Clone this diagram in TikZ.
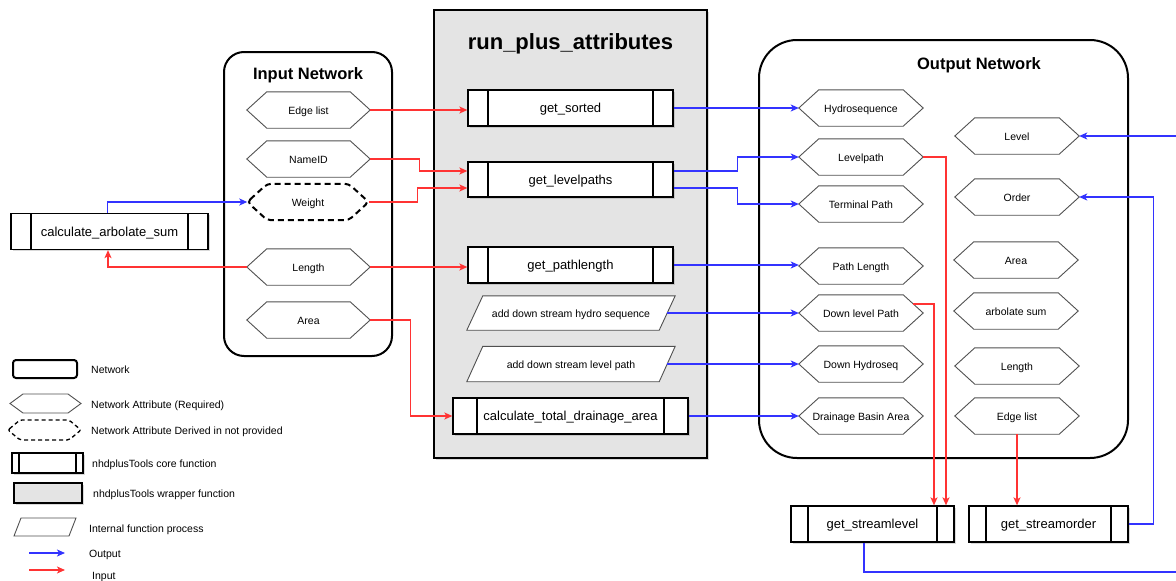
\documentclass[tikz,border=0pt]{standalone}
\usepackage{fontspec}
\setmainfont{Liberation Sans}
\usetikzlibrary{arrows.meta,shadows,calc}
\definecolor{lred}{HTML}{FF3333}
\definecolor{lblue}{HTML}{3333FF}
\definecolor{wgray}{HTML}{E4E4E4}
\definecolor{hexgray}{HTML}{505050}
\tikzset{
  tip/.style={-{Stealth[length=8pt,width=7pt,inset=2pt]}},
  inarr/.style={draw=lred, line width=1.3pt, tip},
  outarr/.style={draw=lblue, line width=1.3pt, tip},
  dio/.style={text height=1.05em, text depth=0.21em},
  diob/.style={text height=1.2em, text depth=0.21em},
  hexbox/.style={minimum height=36pt, inner sep=0pt},
  hexline/.style={draw=hexgray, line width=0.9pt},
  hextext/.style={inner sep=0pt, dio, font=\fontsize{10.5}{12}\selectfont},
  wdash/.style={draw=black, line width=2pt, dash pattern=on 6pt off 4pt, rounded corners=4pt},
  paraline/.style={draw=hexgray, line width=0.9pt, fill=white},
  corebox/.style={draw=black, line width=1.3pt, fill=white, minimum height=36pt, inner sep=0pt, diob,
    font=\fontsize{13}{15}\selectfont,
    drop shadow={shadow xshift=1.5pt, shadow yshift=-1.5pt, opacity=0.3},
    path picture={\draw[line width=1.3pt]
      ([xshift=#1]path picture bounding box.north west) -- ([xshift=#1]path picture bounding box.south west)
      ([xshift=-#1]path picture bounding box.north east) -- ([xshift=-#1]path picture bounding box.south east);}},
  corebox/.default=20pt,
  ttl/.style={font=\bfseries\fontsize{16.5}{19}\selectfont, inner sep=0pt, dio},
  lgd/.style={anchor=west, inner sep=0pt, dio, font=\fontsize{10.5}{12}\selectfont},
}
% hexagon: [extra] name, position, width, text
\newcommand\hexat[5][]{%
  \node[hexbox, minimum width=#4] (#2) at (#3) {};
  \draw[hexline,#1] (#2.west) -- ([xshift=20pt]#2.north west) -- ([xshift=-20pt]#2.north east)
     -- (#2.east) -- ([xshift=-20pt]#2.south east) -- ([xshift=20pt]#2.south west) -- cycle;
  \node[hextext] (#2t) at (#2) {#5};
}
% parallelogram: name, position, height, text
\newcommand\myslant[4]{%
  \node[minimum width=208pt, minimum height=#3, inner sep=0pt] (#1) at (#2) {};
  \draw[paraline] (#1.south west) -- ([xshift=16pt]#1.north west) -- (#1.north east)
     -- ([xshift=-16pt]#1.south east) -- cycle;
  \node[hextext] (#1t) at (#1) {#4};
}
\begin{document}
\begin{tikzpicture}[x=1pt,y=-1pt]
\useasboundingbox (0,0) rectangle (1176,581);
\clip (0,0) rectangle (1176,581);

% containers
\node[draw=black, line width=2pt, fill=wgray, minimum width=273pt, minimum height=448pt,
  drop shadow={shadow xshift=1.5pt, shadow yshift=-1.5pt, opacity=0.3}] (rpa) at (570.5,234) {};
\node[font=\bfseries\fontsize{22}{26}\selectfont, inner sep=0pt, dio] (rpat) at (570.5,45) {run\_plus\_attributes};
\node[draw=black, line width=2pt, rounded corners=20pt, minimum width=168pt, minimum height=304pt] (inb) at (308,204) {};
\node[ttl] (inbt) at (308,75.5) {Input Network};
\node[draw=black, line width=2pt, rounded corners=38pt, minimum width=369pt, minimum height=418pt] (outb) at (943.5,249) {};
\node[ttl] (outbt) at (979,65.5) {Output Network};

% input attributes
\hexat{in1}{308.5,110}{123pt}{Edge list}
\hexat{in2}{308.5,159}{123pt}{NameID}
\hexat[wdash]{wt}{308,202}{121pt}{Weight}
\hexat{in4}{308.5,267}{123pt}{Length}
\hexat{in5}{308.5,320}{123pt}{Area}

% functions
\node[corebox, minimum width=197pt] (cas) at (109.5,231.5) {calculate\_arbolate\_sum};
\node[corebox, minimum width=205pt] (gs) at (570.5,108) {get\_sorted};
\node[corebox, minimum width=205pt, minimum height=35pt] (glp) at (570.5,179.5) {get\_levelpaths};
\node[corebox, minimum width=205pt] (gpl) at (570.5,265) {get\_pathlength};
\myslant{p1}{571,313}{34pt}{add down stream hydro sequence}
\myslant{p2}{571,364}{35pt}{add down stream level path}
\node[corebox=24pt, minimum width=235pt] (ctda) at (570.5,416) {calculate\_total\_drainage\_area};
\node[corebox=17pt, minimum width=163pt] (gsl) at (872.5,524) {get\_streamlevel};
\node[corebox=17pt, minimum width=159pt] (gso) at (1048.5,524) {get\_streamorder};

% output attributes
\hexat{o1}{861,108}{124pt}{Hydrosequence}
\hexat{o2}{861,157}{124pt}{Levelpath}
\hexat{o3}{861,204}{124pt}{Terminal Path}
\hexat{o4}{861,266}{124pt}{Path Length}
\hexat{o5}{861,313}{124pt}{Down level Path}
\hexat{o6}{861,364}{124pt}{Down Hydroseq}
\hexat{o7}{861,416}{124pt}{Drainage Basin Area}
\hexat{o8}{1017,136}{124pt}{Level}
\hexat{o9}{1017,197}{124pt}{Order}
\hexat{o10}{1016,260}{124pt}{Area}
\hexat{o11}{1016,311}{124pt}{arbolate sum}
\hexat{o12}{1017,366}{124pt}{Length}
\hexat{o13}{1017,416}{124pt}{Edge list}

% input connectors
\draw[inarr] (in1.east) -- (in1.east -| gs.west);
\draw[inarr] (in2.east) -- ++(49,0) |- ([yshift=8.5pt]glp.west);
\draw[inarr] (wt.east) -- ++(49,0) |- ([yshift=-8.5pt]glp.west);
\draw[inarr] (in4.east) -- (in4.east -| gpl.west);
\draw[inarr] (in5.east) -- ++(40,0) |- (ctda.west);
\draw[inarr] (in4.west) -| ([xshift=-1.5pt]cas.south);
\draw[outarr] ([xshift=-2pt]cas.north) |- (wt.west);

% output connectors
\draw[outarr] (gs.east) -- (gs.east -| o1.west);
\draw[outarr] ([yshift=8.5pt]glp.east) -- ++(64,0) |- (o2.west);
\draw[outarr] ([yshift=-8.5pt]glp.east) -- ++(64,0) |- (o3.west);
\draw[outarr] (gpl.east) -- (gpl.east -| o4.west);
\draw[outarr] ([xshift=-8pt]p1.east) -- (p1.east -| o5.west);
\draw[outarr] ([xshift=-8pt]p2.east) -- (p2.east -| o6.west);
\draw[outarr] (ctda.east) -- (ctda.east -| o7.west);

% stream level / order
\draw[inarr] (o2.east) -| ([xshift=73.5pt]gsl.north);
\draw[inarr] ([xshift=-10pt,yshift=9pt]o5.east) -| ([xshift=61.5pt]gsl.north);
\draw[inarr] (o13.south) -- (o13.south |- gso.north);
\draw[outarr] (gso.east) -- ++(25,0) |- (o9.east);
\coordinate (farR) at (1190,572);
\draw[outarr] ([xshift=-8.5pt]gsl.south) |- (farR) |- (o8.east);

% legend
\draw[line width=2pt, rounded corners=3pt] (13,360) rectangle (77,378);
\node[lgd] (l1) at (91,369) {Network};
\draw[hexline] (10,403.5) -- (23,394) -- (68,394) -- (81,403.5) -- (68,413) -- (23,413) -- cycle;
\node[lgd] (l2) at (91,404) {Network Attribute (Required)};
\draw[draw=black, line width=1.3pt, dash pattern=on 4pt off 3pt, rounded corners=2pt]
  (8,430) -- (20,420) -- (69,420) -- (81,430) -- (69,440) -- (20,440) -- cycle;
\node[lgd] (l3) at (91,430) {Network Attribute Derived in not provided};
\draw[line width=1.3pt, fill=white, drop shadow={shadow xshift=1.5pt, shadow yshift=-1.5pt, opacity=0.3}]
  (12,453) rectangle (83,473);
\draw[line width=1.3pt] (19,453) -- (19,473) (76,453) -- (76,473);
\node[lgd] (l4) at (92,463) {nhdplusTools core function};
\draw[line width=2pt, fill=wgray, drop shadow={shadow xshift=1.5pt, shadow yshift=-1.5pt, opacity=0.3}]
  (14,483) rectangle (82,503);
\node[lgd] (l5) at (93,493) {nhdplusTools wrapper function};
\draw[paraline] (14,536) -- (21,518) -- (76,518) -- (69,536) -- cycle;
\node[lgd] (l6) at (89,528) {Internal function process};
\coordinate (lo1) at (29,553); \coordinate (lo2) at (65,553);
\draw[outarr] (lo1) -- (lo2);
\node[lgd] (l7) at (89,553) {Output};
\coordinate (li1) at (29,570); \coordinate (li2) at (65,570);
\draw[inarr] (li1) -- (li2);
\node[lgd] (l8) at (92,575) {Input};
\end{tikzpicture}
\end{document}
